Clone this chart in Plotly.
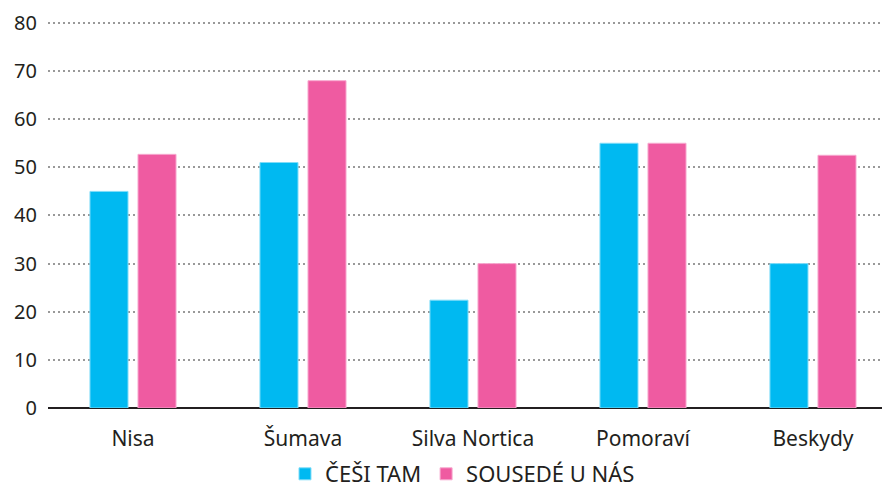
import plotly.graph_objects as go

# data
regions = ["Nisa", "Šumava", "Silva Nortica", "Pomoraví", "Beskydy"]
cesi_tam = [45, 51, 22.4, 55, 30]
sousede_u_nas = [52.7, 68, 30, 55, 52.5]
y_ticks = [0, 10, 20, 30, 40, 50, 60, 70, 80]

BLUE = "#00B9F1"
PINK = "#EF5BA1"
TEXT = "#231F20"

fig = go.Figure()
fig.add_trace(go.Bar(
    x=regions, y=cesi_tam, name="ČEŠI TAM",
    marker=dict(color=BLUE, line=dict(color="#7fdcf8", width=1)),
))
fig.add_trace(go.Bar(
    x=regions, y=sousede_u_nas, name="SOUSEDÉ U NÁS",
    marker=dict(color=PINK, line=dict(color="#f7a9cf", width=1)),
))

# page body has an 8px margin, so keep the figure inside the window
fig.update_layout(
    width=874, height=487,
    margin=dict(l=40, r=0, t=13, b=77),
    paper_bgcolor="white", plot_bgcolor="white",
    font=dict(family="Noto Sans, Open Sans, sans-serif", size=20, color=TEXT),
    barmode="group", bargap=0.435, bargroupgap=0.208,
    showlegend=True,
    legend=dict(orientation="h", x=0.497, xanchor="center", y=-0.171, yanchor="middle",
                font=dict(size=22, color=TEXT), traceorder="normal"),
)
fig.update_xaxes(
    range=[-0.5, 4.406], showgrid=False, showline=False, zeroline=False,
    ticks="", ticklabelstandoff=16, automargin=False,
    tickfont=dict(size=21),
)
fig.update_yaxes(
    range=[0, 80.4], tickvals=y_ticks, showgrid=True,
    gridcolor="#999999", griddash="2px,3px", gridwidth=2,
    zeroline=True, zerolinecolor=TEXT, zerolinewidth=2,
    showline=False, ticks="", ticklabelstandoff=10, automargin=False,
    ticklabeloverflow="allow", tickfont=dict(size=20),
)

fig.write_html("out.html")
